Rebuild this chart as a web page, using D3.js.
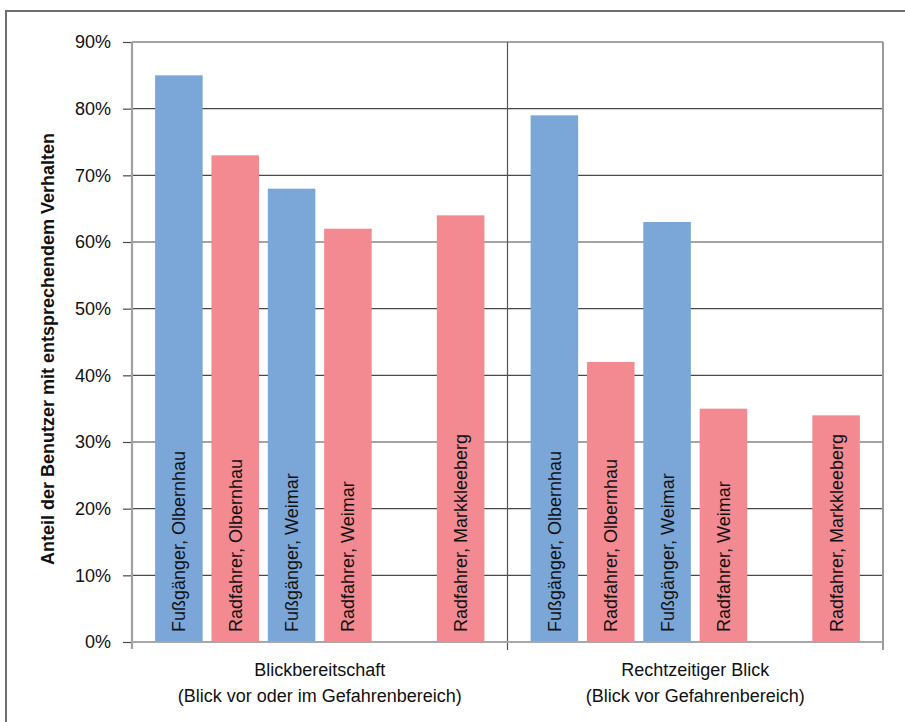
<!DOCTYPE html>
<html>
<head>
<meta charset="utf-8">
<script src="https://cdn.jsdelivr.net/npm/d3@7"></script>
<style>
  html, body { margin: 0; padding: 0; background: #fff; }
  svg { display: block; font-family: "Liberation Sans", Arial, sans-serif; }
</style>
</head>
<body>
<svg id="chart" width="905" height="722"></svg>
<script>
// Observation categories (two lines each)
const categories = [
  ["Blickbereitschaft", "(Blick vor oder im Gefahrenbereich)"],
  ["Rechtzeitiger Blick", "(Blick vor Gefahrenbereich)"]
];

// Series: user group and location (the 5th slot has no observations)
const seriesNames = [
  "Fußgänger, Olbernhau",
  "Radfahrer, Olbernhau",
  "Fußgänger, Weimar",
  "Radfahrer, Weimar",
  "Fußgänger, Markkleeberg",
  "Radfahrer, Markkleeberg"
];
const seriesType = ["fuss", "rad", "fuss", "rad", "fuss", "rad"];

// Share of users with the respective behaviour
const valuesBlickbereitschaft = [0.85, 0.73, 0.68, 0.62, null, 0.64];
const valuesRechtzeitig       = [0.79, 0.42, 0.63, 0.35, null, 0.34];

const yTicks = [0, 0.1, 0.2, 0.3, 0.4, 0.5, 0.6, 0.7, 0.8, 0.9];
const yTitle = "Anteil der Benutzer mit entsprechendem Verhalten";

const values = [valuesBlickbereitschaft, valuesRechtzeitig];
const colors = { fuss: "#7ba7d8", rad: "#f38a92" };
const textColor = "#111";

const svg = d3.select("#chart");
const plot = { left: 132, right: 883, top: 42, bottom: 642 };

// outer frame
svg.append("rect")
  .attr("x", 6).attr("y", 11)
  .attr("width", 920).attr("height", 730)
  .attr("fill", "none").attr("stroke", "#6e6e6e").attr("stroke-width", 2);

const x0 = d3.scaleBand()
  .domain(d3.range(categories.length))
  .range([plot.left, plot.right])
  .padding(0);

const x1 = d3.scaleBand()
  .domain(d3.range(seriesNames.length))
  .range([0, x0.bandwidth()])
  .paddingInner(0.156)
  .paddingOuter(0.41);

const y = d3.scaleLinear()
  .domain([0, 0.9])
  .range([plot.bottom, plot.top]);

// horizontal gridlines
svg.append("g")
  .selectAll("line")
  .data(yTicks.filter(d => d > 0))
  .join("line")
  .attr("x1", plot.left).attr("x2", plot.right)
  .attr("y1", d => y(d)).attr("y2", d => y(d))
  .attr("stroke", "#4a4a4a").attr("stroke-width", 1.2);

// separator between categories
svg.append("g")
  .selectAll("line")
  .data(d3.range(1, categories.length))
  .join("line")
  .attr("x1", d => x0(d)).attr("x2", d => x0(d))
  .attr("y1", plot.top).attr("y2", plot.bottom + 8)
  .attr("stroke", "#555").attr("stroke-width", 1.2);

// right plot border
svg.append("line")
  .attr("x1", plot.right).attr("x2", plot.right)
  .attr("y1", plot.top).attr("y2", plot.bottom + 8)
  .attr("stroke", "#9a9a9a").attr("stroke-width", 2);

// bars
const groups = svg.append("g")
  .selectAll("g")
  .data(values)
  .join("g")
  .attr("transform", (d, i) => `translate(${x0(i)},0)`);

const bars = groups.selectAll("g.bar")
  .data(d => d.map((v, j) => ({ v, j })).filter(e => e.v != null))
  .join("g").attr("class", "bar");

bars.append("rect")
  .attr("x", d => x1(d.j))
  .attr("width", x1.bandwidth())
  .attr("y", d => y(d.v))
  .attr("height", d => y(0) - y(d.v))
  .attr("fill", d => colors[seriesType[d.j]]);

bars.append("text")
  .attr("transform", d => `translate(${x1(d.j) + x1.bandwidth() / 2},${y(0) - 10}) rotate(-90)`)
  .attr("dy", "0.36em")
  .attr("font-size", 18)
  .attr("fill", textColor)
  .text(d => seriesNames[d.j]);

// y axis
const yAxis = d3.axisLeft(y)
  .tickValues(yTicks)
  .tickFormat(d3.format(".0%"))
  .tickSize(9)
  .tickPadding(12);

const gy = svg.append("g")
  .attr("transform", `translate(${plot.left},0)`)
  .call(yAxis);
gy.select(".domain").remove();
gy.selectAll(".tick line").attr("stroke", "#4a4a4a").attr("stroke-width", 1.2);
gy.selectAll(".tick text")
  .attr("font-size", 18)
  .attr("font-family", "Liberation Sans, Arial, sans-serif")
  .attr("fill", textColor);

svg.append("line")
  .attr("x1", plot.left).attr("x2", plot.left)
  .attr("y1", plot.top).attr("y2", plot.bottom + 7)
  .attr("stroke", "#a0a0a0").attr("stroke-width", 2.2);

// baseline (0 %)
svg.append("line")
  .attr("x1", plot.left).attr("x2", plot.right)
  .attr("y1", y(0)).attr("y2", y(0))
  .attr("stroke", "#a8a8a8").attr("stroke-width", 2);

// category labels
const catLabels = svg.append("g")
  .selectAll("text")
  .data(categories)
  .join("text")
  .attr("x", (d, i) => x0(i) + x0.bandwidth() / 2)
  .attr("y", 676)
  .attr("text-anchor", "middle")
  .attr("font-size", 18)
  .attr("fill", textColor);
catLabels.selectAll("tspan")
  .data(d => d)
  .join("tspan")
  .attr("x", function () { return this.parentNode.getAttribute("x"); })
  .attr("dy", (d, i) => i === 0 ? 0 : 26)
  .text(d => d);

// y axis title
svg.append("text")
  .attr("transform", `translate(54,${(plot.top + plot.bottom) / 2 + 7}) rotate(-90)`)
  .attr("text-anchor", "middle")
  .attr("font-size", 18)
  .attr("font-weight", "bold")
  .attr("fill", textColor)
  .text(yTitle);
</script>
</body>
</html>
